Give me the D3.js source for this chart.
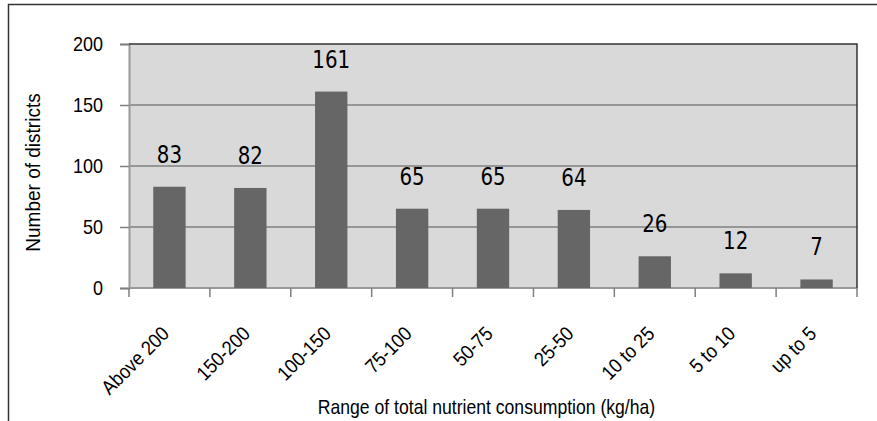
<!DOCTYPE html>
<html><head><meta charset="utf-8">
<script src="https://cdn.jsdelivr.net/npm/d3@7"></script>
<style>body{margin:0;background:#fff}svg{display:block}</style>
</head><body>
<script>
const categories = ["Above 200","150-200","100-150","75-100","50-75","25-50","10 to 25","5 to 10","up to 5"];
const values = [83,82,161,65,65,64,26,12,7];
const yTicks = [0,50,100,150,200];
const yTitle = "Number of districts";
const xTitle = "Range of total nutrient consumption (kg/ha)";

const W = 877, H = 421;
const m = {left:129, right:857, top:44, bottom:288};
const svg = d3.select("body").append("svg").attr("width",W).attr("height",H);
const sans = "'Liberation Sans',Arial,sans-serif";

// outer frame
svg.append("path").attr("d",`M8.5,${H+2} V4.5 H${W+2}`).attr("fill","none").attr("stroke","#333").attr("stroke-width",1.5);

const x = d3.scaleBand().domain(categories).range([m.left,m.right]).paddingInner(0.6).paddingOuter(0.3);
const xb = d3.scaleBand().domain(categories).range([m.left,m.right]);
const y = d3.scaleLinear().domain([0,200]).range([m.bottom,m.top]);

svg.append("rect").attr("x",m.left).attr("y",m.top).attr("width",m.right-m.left).attr("height",m.bottom-m.top).attr("fill","#d9d9d9");

// gridlines
svg.append("g").selectAll("line").data(yTicks.filter(d=>d>0 && d<200)).join("line")
  .attr("x1",m.left).attr("x2",m.right).attr("y1",d=>y(d)).attr("y2",d=>y(d))
  .attr("stroke","#7f7f7f").attr("stroke-width",1.5);

// y axis
const yAxis = svg.append("g").attr("transform",`translate(${m.left},0)`)
  .call(d3.axisLeft(y).tickValues(yTicks).tickSize(9).tickFormat(""));
yAxis.select(".domain").attr("stroke","#999").attr("stroke-width",2);
yAxis.selectAll(".tick line").attr("stroke","#7f7f7f").attr("stroke-width",1.5);
svg.append("g").selectAll("text").data(yTicks).join("text")
  .attr("transform",d=>`translate(103,${y(d)}) scale(0.9,1)`)
  .attr("dy","0.35em").attr("text-anchor","end").attr("font-family",sans).attr("font-size",20).attr("fill","#000")
  .text(d=>d);

// x axis
svg.append("line").attr("x1",m.left).attr("x2",m.right).attr("y1",m.bottom).attr("y2",m.bottom).attr("stroke","#999").attr("stroke-width",2);
const bounds = categories.map(c=>xb(c)).concat([xb(categories[categories.length-1])+xb.bandwidth()]);
svg.append("g").selectAll("line").data(bounds).join("line")
  .attr("x1",d=>d).attr("x2",d=>d).attr("y1",m.bottom).attr("y2",m.bottom+9)
  .attr("stroke","#7f7f7f").attr("stroke-width",1.5);

// top and right plot border
svg.append("path").attr("d",`M${m.left},${m.top} H${m.right} V${m.bottom}`).attr("fill","none").attr("stroke","#333").attr("stroke-width",1.5);

// bars
svg.append("g").selectAll("rect").data(values).join("rect")
  .attr("x",(d,i)=>x(categories[i])).attr("width",x.bandwidth())
  .attr("y",d=>y(d)).attr("height",d=>y(0)-y(d)).attr("fill","#666");

// value labels
svg.append("g").selectAll("text").data(values).join("text")
  .attr("transform",(d,i)=>`translate(${x(categories[i])+x.bandwidth()/2},${y(d)-24}) scale(1,1.15)`)
  .attr("text-anchor","middle").attr("font-family","'DejaVu Sans Condensed','DejaVu Sans',sans-serif")
  .attr("font-size",22).attr("fill","#000").text(d=>d);

// category labels
svg.append("g").selectAll("text").data(categories).join("text")
  .attr("transform",c=>`translate(${xb(c)+xb.bandwidth()/2+1},${m.bottom+47}) rotate(-45) scale(0.9,1)`)
  .attr("text-anchor","end").attr("font-family",sans).attr("font-size",20).attr("fill","#000")
  .text(c=>c);

// axis titles
svg.append("text").attr("transform",`translate(40,172.5) rotate(-90) scale(0.95,1)`).attr("text-anchor","middle")
  .attr("font-family",sans).attr("font-size",20).attr("fill","#000").text(yTitle);
svg.append("text").attr("transform",`translate(486.5,414) scale(0.88,1)`).attr("text-anchor","middle")
  .attr("font-family",sans).attr("font-size",20).attr("fill","#000").text(xTitle);
</script>
</body></html>
